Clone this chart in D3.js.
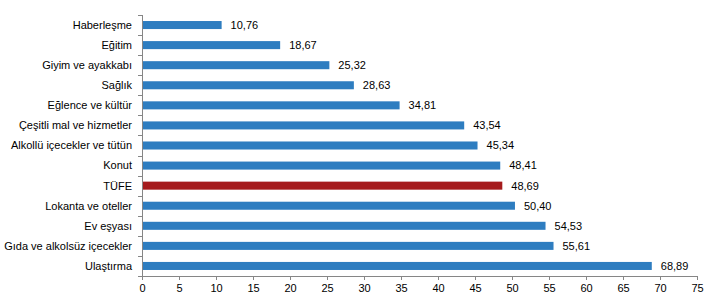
<!DOCTYPE html>
<html lang="en">
<head>
<meta charset="utf-8">
<title>TÜFE alt gruplar</title>
<script src="https://cdn.jsdelivr.net/npm/d3@7"></script>
<style>
  body { margin: 0; background: #fff; }
  svg text { font-family: Arial, "Liberation Sans", sans-serif; font-size: 11px; fill: #000; }
</style>
</head>
<body>
<svg id="chart" width="718" height="302"></svg>
<script>
// categories top to bottom
var categories = ['Haberleşme', 'Eğitim', 'Giyim ve ayakkabı', 'Sağlık', 'Eğlence ve kültür',
  'Çeşitli mal ve hizmetler', 'Alkollü içecekler ve tütün', 'Konut', 'TÜFE',
  'Lokanta ve oteller', 'Ev eşyası', 'Gıda ve alkolsüz içecekler', 'Ulaştırma'];
var values = [10.76, 18.67, 25.32, 28.63, 34.81, 43.54, 45.34, 48.41, 48.69, 50.40, 54.53, 55.61, 68.89];
var xTicks = [0, 5, 10, 15, 20, 25, 30, 35, 40, 45, 50, 55, 60, 65, 70, 75];
var highlight = 'TÜFE';

var svg = d3.select('#chart');
var plotLeft = 142, plotRight = 697, plotTop = 15, plotBottom = 276;
var axisColor = '#868686';

var x = d3.scaleLinear().domain([0, 75]).range([plotLeft, plotRight]);
var y = d3.scaleBand().domain(categories).range([plotTop, plotBottom]).paddingInner(0.6).paddingOuter(0.3);
var step = y.step();

// bars
svg.selectAll('rect.bar').data(values).enter().append('rect')
  .attr('class', 'bar')
  .attr('x', x(0))
  .attr('y', function(d, i) { return y(categories[i]); })
  .attr('width', function(d) { return x(d) - x(0); })
  .attr('height', y.bandwidth())
  .attr('fill', function(d, i) { return categories[i] === highlight ? '#A51B1D' : '#2E7DC0'; });

// value labels
svg.selectAll('text.val').data(values).enter().append('text')
  .attr('class', 'val')
  .attr('x', function(d) { return x(d) + 9; })
  .attr('y', function(d, i) { return y(categories[i]) + y.bandwidth() / 2; })
  .attr('dy', '0.35em')
  .text(function(d) { return d.toFixed(2).replace('.', ','); });

// category labels
svg.selectAll('text.cat').data(categories).enter().append('text')
  .attr('class', 'cat')
  .attr('x', plotLeft - 10)
  .attr('y', function(d) { return y(d) + y.bandwidth() / 2; })
  .attr('dy', '0.35em')
  .attr('text-anchor', 'end')
  .text(function(d) { return d; });

// y axis line + separators
var yLine = svg.append('g').attr('stroke', axisColor).attr('shape-rendering', 'crispEdges');
yLine.append('line').attr('x1', plotLeft + 0.5).attr('x2', plotLeft + 0.5).attr('y1', plotTop).attr('y2', plotBottom);
d3.range(categories.length + 1).forEach(function(i) {
  var yy = Math.round(plotTop + i * step) + 0.5;
  yLine.append('line').attr('x1', plotLeft - 4).attr('x2', plotLeft).attr('y1', yy).attr('y2', yy);
});

// x axis
var xAxis = svg.append('g').attr('transform', 'translate(0,' + plotBottom + ')')
  .call(d3.axisBottom(x).tickValues(xTicks).tickSize(4).tickPadding(4).tickFormat(d3.format('d')));
xAxis.select('.domain').attr('stroke', axisColor).attr('shape-rendering', 'crispEdges');
xAxis.selectAll('.tick line').attr('stroke', axisColor).attr('shape-rendering', 'crispEdges');
xAxis.selectAll('text').attr('font-family', 'Arial, "Liberation Sans", sans-serif').attr('font-size', 11).attr('fill', '#000');
</script>
</body>
</html>
